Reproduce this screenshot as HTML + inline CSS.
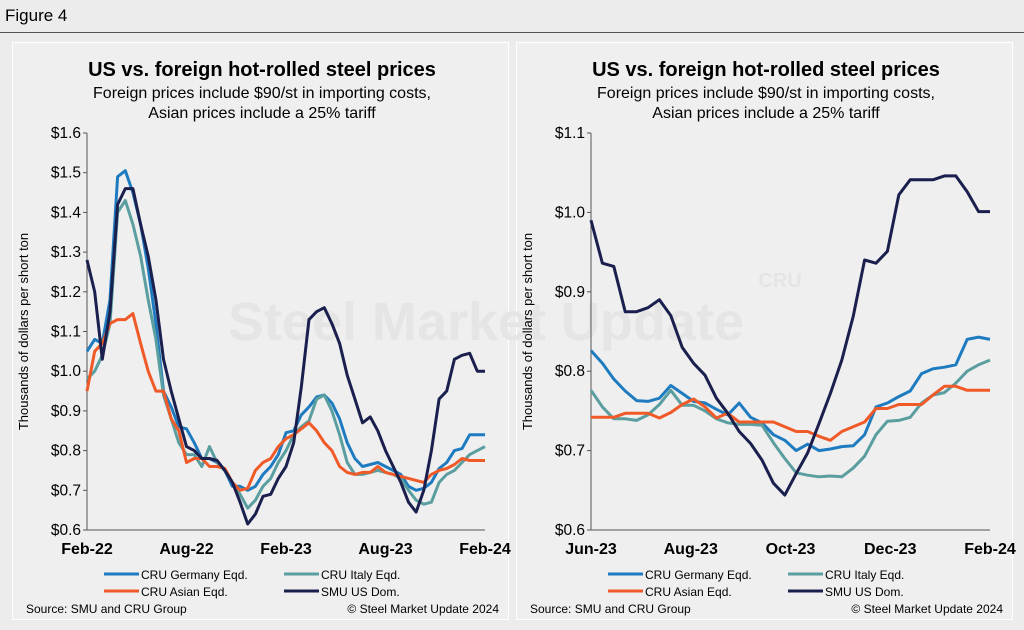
<!DOCTYPE html>
<html><head><meta charset="utf-8">
<style>
body{margin:0;width:1024px;height:630px;background:#ececec;font-family:"Liberation Sans",Arial,sans-serif;overflow:hidden;position:relative}
.panel{position:absolute;top:42px;width:497px;height:578px;border:1.5px solid #fff;background:#efefef;box-sizing:border-box}
svg text{font-family:"Liberation Sans",Arial,sans-serif}
</style></head>
<body>
<div style="position:absolute;left:5px;top:6px;font-size:17px;color:#000">Figure 4</div>
<div style="position:absolute;left:0;top:32px;width:1024px;height:1px;background:#555"></div>
<div class="panel" style="left:12px"></div>
<div class="panel" style="left:516px"></div>
<svg id="svg" width="1024" height="630" style="position:absolute;left:0;top:0"></svg>
<script>
// Left chart data (biweekly, Feb-22 .. Feb-24), $ thousands/short ton
const leftSMU=[1.28,1.20,1.03,1.15,1.42,1.46,1.46,1.37,1.29,1.18,1.03,0.95,0.88,0.81,0.80,0.78,0.78,0.775,0.75,0.72,0.67,0.615,0.64,0.685,0.69,0.73,0.76,0.82,0.96,1.13,1.15,1.16,1.12,1.07,0.99,0.93,0.87,0.885,0.85,0.80,0.76,0.72,0.67,0.645,0.70,0.80,0.93,0.95,1.03,1.04,1.045,1.00,1.00];
const leftGermany=[1.05,1.08,1.07,1.18,1.49,1.505,1.45,1.37,1.26,1.12,0.95,0.91,0.86,0.855,0.82,0.78,0.78,0.77,0.75,0.71,0.71,0.70,0.71,0.74,0.76,0.79,0.845,0.85,0.89,0.91,0.935,0.94,0.92,0.88,0.82,0.78,0.76,0.765,0.77,0.76,0.75,0.74,0.71,0.70,0.705,0.72,0.755,0.77,0.80,0.805,0.84,0.84,0.84];
const leftItaly=[0.98,1.00,1.04,1.12,1.40,1.43,1.37,1.29,1.18,1.08,0.94,0.88,0.82,0.79,0.79,0.76,0.81,0.77,0.75,0.72,0.69,0.655,0.675,0.71,0.73,0.77,0.80,0.84,0.86,0.875,0.93,0.94,0.90,0.84,0.77,0.74,0.74,0.745,0.75,0.745,0.74,0.73,0.70,0.675,0.665,0.67,0.72,0.74,0.75,0.77,0.79,0.80,0.81];
const leftAsian=[0.95,1.05,1.07,1.12,1.13,1.13,1.145,1.07,1.00,0.95,0.95,0.88,0.85,0.77,0.78,0.78,0.76,0.76,0.755,0.72,0.70,0.705,0.75,0.77,0.78,0.81,0.83,0.84,0.855,0.87,0.85,0.82,0.80,0.76,0.745,0.74,0.745,0.745,0.76,0.745,0.74,0.735,0.73,0.725,0.72,0.74,0.75,0.755,0.765,0.78,0.775,0.775,0.775];
const leftXLabels=["Feb-22","Aug-22","Feb-23","Aug-23","Feb-24"];
const leftYTicks=[0.6,0.7,0.8,0.9,1.0,1.1,1.2,1.3,1.4,1.5,1.6];
// Right chart data (weekly, Jun-23 .. Feb-24)
const rightSMU=[0.99,0.936,0.932,0.875,0.875,0.88,0.89,0.87,0.83,0.81,0.795,0.766,0.747,0.724,0.709,0.688,0.659,0.644,0.671,0.697,0.734,0.772,0.814,0.869,0.94,0.936,0.951,1.022,1.041,1.041,1.041,1.046,1.046,1.026,1.001,1.001];
const rightGermany=[0.826,0.81,0.79,0.775,0.763,0.762,0.766,0.782,0.772,0.762,0.76,0.752,0.745,0.76,0.742,0.735,0.72,0.713,0.70,0.708,0.70,0.702,0.705,0.706,0.72,0.755,0.76,0.768,0.775,0.797,0.803,0.805,0.808,0.84,0.843,0.84];
const rightItaly=[0.776,0.755,0.74,0.74,0.738,0.745,0.758,0.776,0.757,0.757,0.75,0.74,0.735,0.733,0.733,0.732,0.71,0.69,0.672,0.669,0.667,0.668,0.667,0.678,0.693,0.72,0.737,0.738,0.742,0.76,0.77,0.773,0.785,0.80,0.808,0.814];
const rightAsian=[0.742,0.742,0.742,0.747,0.747,0.747,0.741,0.748,0.758,0.765,0.755,0.741,0.747,0.736,0.736,0.736,0.736,0.73,0.724,0.724,0.718,0.713,0.724,0.73,0.736,0.753,0.753,0.758,0.758,0.758,0.77,0.781,0.781,0.776,0.776,0.776];
const rightXLabels=["Jun-23","Aug-23","Oct-23","Dec-23","Feb-24"];
const rightYTicks=[0.6,0.7,0.8,0.9,1.0,1.1];

const NS="http://www.w3.org/2000/svg";
const svg=document.getElementById('svg');
const C={ger:"#1f7bc0",ita:"#5a9ea0",asi:"#f05a28",smu:"#1a1f4d"};
function mk(tag,attrs,parent){const e=document.createElementNS(NS,tag);for(const k in attrs)e.setAttribute(k,attrs[k]);(parent||svg).appendChild(e);return e;}
function txt(x,y,s,attrs){const t=mk('text',Object.assign({x:x,y:y},attrs||{}));t.textContent=s;return t;}

const wm=txt(486,340,"Steel Market Update",{'font-size':54,'font-weight':'bold',fill:'#e5e5e5','text-anchor':'middle'});


const wm2=txt(780,287,"CRU",{'font-size':20,'font-weight':'bold',fill:'#e5e5e5','text-anchor':'middle'});



function chart(o){
  const cx=o.ox+250;
  const t1=txt(cx,76,"US vs. foreign hot-rolled steel prices",{'font-size':20,'font-weight':'bold','text-anchor':'middle'});
  
  
  const t2=txt(cx,98,"Foreign prices include $90/st in importing costs,",{'font-size':16,'text-anchor':'middle'});
  
  
  const t3=txt(cx,118,"Asian prices include a 25% tariff",{'font-size':16,'text-anchor':'middle'});
  
  
  const x0=o.x0,x1=o.x1,yT=133,yB=530;
  const ymin=o.yTicks[0],ymax=o.yTicks[o.yTicks.length-1];
  const ys=v=>yB-(v-ymin)/(ymax-ymin)*(yB-yT);
  const n=o.series[0].d.length;
  const xs=i=>x0+i/(n-1)*(x1-x0);
  const ya=mk('line',{x1:x0,y1:yT,x2:x0,y2:yB,stroke:'#555','stroke-width':1});
  
  
  const xa=mk('line',{x1:x0,y1:yB,x2:x1,y2:yB,stroke:'#555','stroke-width':1});
  
  
  o.yTicks.forEach(v=>{
    mk('line',{x1:x0-4,y1:ys(v),x2:x0,y2:ys(v),stroke:'#555','stroke-width':1});
    const t=txt(x0-6,ys(v)+5,"$"+v.toFixed(1),{'font-size':15.5,'text-anchor':'end'});
    
    
  });
  o.xLabels.forEach((s,i)=>{
    const x=x0+i/(o.xLabels.length-1)*(x1-x0);
    const t=txt(x,554,s,{'font-size':16,'font-weight':'bold','text-anchor':'middle'});
    
    
  });
  const yt=txt(0,0,"Thousands of dollars per short ton",{'font-size':13,'text-anchor':'middle',transform:`translate(${o.ox+16},${(yT+yB)/2}) rotate(-90)`});
  
  
  o.series.forEach(s=>{
    const p=mk('polyline',{points:s.d.map((v,i)=>xs(i).toFixed(1)+','+ys(v).toFixed(1)).join(' '),fill:'none',stroke:s.c,'stroke-width':3,'stroke-linejoin':'round'});
    
    
  });
  const L=[["CRU Germany Eqd.",C.ger,0,0],["CRU Italy Eqd.",C.ita,1,0],["CRU Asian Eqd.",C.asi,0,1],["SMU US Dom.",C.smu,1,1]];
  L.forEach(l=>{
    const lx=o.ox+92+l[2]*180, ly=574+l[3]*17;
    const ln=mk('line',{x1:lx,y1:ly,x2:lx+35,y2:ly,stroke:l[1],'stroke-width':3});
    
    
    const t=txt(lx+37,ly+5,l[0],{'font-size':12});
    
    
  });
  const s1=txt(o.ox+14,613,"Source: SMU and CRU Group",{'font-size':12});
  
  
  const s2=txt(o.ox+487,613,"© Steel Market Update 2024",{'font-size':12,'text-anchor':'end'});
  
  
}
chart({ox:12,x0:87,x1:485,yTicks:leftYTicks,xLabels:leftXLabels,
  series:[{n:'line-germany',d:leftGermany,c:C.ger},{n:'line-italy',d:leftItaly,c:C.ita},{n:'line-asian',d:leftAsian,c:C.asi},{n:'line-smu',d:leftSMU,c:C.smu}]});
chart({ox:516,x0:591,x1:990,yTicks:rightYTicks,xLabels:rightXLabels,
  series:[{n:'line-germany',d:rightGermany,c:C.ger},{n:'line-italy',d:rightItaly,c:C.ita},{n:'line-asian',d:rightAsian,c:C.asi},{n:'line-smu',d:rightSMU,c:C.smu}]});
</script>
</body></html>
